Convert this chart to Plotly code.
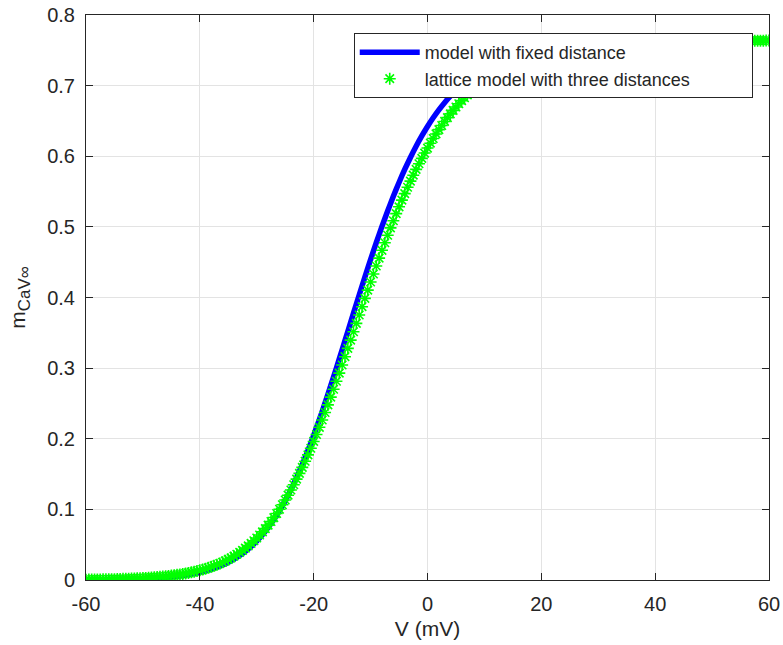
import numpy as np
import plotly.graph_objects as go

# ---- data ----
# membrane potential grids (mV)
V_lattice = np.linspace(-60, 60, 241)   # 0.5 mV sampling of the lattice model
V_fixed = np.linspace(-60, 60, 121)     # 1 mV sampling of the fixed-distance model

m_lattice = [
    0.0005, 0.0006, 0.0006, 0.0007, 0.0007, 0.0008, 0.0009, 0.0010, 0.0010, 0.0011,
    0.0012, 0.0013, 0.0014, 0.0016, 0.0017, 0.0018, 0.0020, 0.0022, 0.0024, 0.0026,
    0.0028, 0.0030, 0.0033, 0.0035, 0.0038, 0.0042, 0.0045, 0.0049, 0.0053, 0.0057,
    0.0062, 0.0067, 0.0073, 0.0079, 0.0085, 0.0092, 0.0100, 0.0108, 0.0117, 0.0127,
    0.0137, 0.0148, 0.0160, 0.0172, 0.0186, 0.0201, 0.0217, 0.0234, 0.0252, 0.0271,
    0.0292, 0.0314, 0.0338, 0.0364, 0.0391, 0.0420, 0.0451, 0.0484, 0.0519, 0.0556,
    0.0595, 0.0637, 0.0681, 0.0728, 0.0777, 0.0829, 0.0884, 0.0942, 0.1002, 0.1065,
    0.1132, 0.1201, 0.1274, 0.1349, 0.1428, 0.1510, 0.1594, 0.1682, 0.1772, 0.1866,
    0.1962, 0.2060, 0.2162, 0.2265, 0.2371, 0.2479, 0.2589, 0.2701, 0.2814, 0.2929,
    0.3045, 0.3162, 0.3279, 0.3397, 0.3515, 0.3634, 0.3752, 0.3870, 0.3987, 0.4104,
    0.4219, 0.4333, 0.4446, 0.4558, 0.4668, 0.4776, 0.4882, 0.4986, 0.5087, 0.5187,
    0.5284, 0.5379, 0.5471, 0.5561, 0.5648, 0.5732, 0.5814, 0.5894, 0.5970, 0.6045,
    0.6116, 0.6185, 0.6251, 0.6316, 0.6377, 0.6436, 0.6493, 0.6547, 0.6600, 0.6650,
    0.6698, 0.6743, 0.6787, 0.6829, 0.6869, 0.6908, 0.6944, 0.6979, 0.7012, 0.7044,
    0.7074, 0.7103, 0.7130, 0.7157, 0.7181, 0.7205, 0.7227, 0.7249, 0.7269, 0.7288,
    0.7307, 0.7324, 0.7341, 0.7356, 0.7371, 0.7385, 0.7399, 0.7411, 0.7423, 0.7435,
    0.7446, 0.7456, 0.7466, 0.7475, 0.7484, 0.7492, 0.7500, 0.7507, 0.7515, 0.7521,
    0.7528, 0.7534, 0.7539, 0.7545, 0.7550, 0.7555, 0.7559, 0.7563, 0.7568, 0.7571,
    0.7575, 0.7578, 0.7582, 0.7585, 0.7588, 0.7591, 0.7593, 0.7596, 0.7598, 0.7600,
    0.7603, 0.7605, 0.7606, 0.7608, 0.7610, 0.7612, 0.7613, 0.7615, 0.7616, 0.7617,
    0.7619, 0.7620, 0.7621, 0.7622, 0.7623, 0.7624, 0.7625, 0.7625, 0.7626, 0.7627,
    0.7628, 0.7628, 0.7629, 0.7630, 0.7630, 0.7631, 0.7631, 0.7632, 0.7632, 0.7633,
    0.7633, 0.7633, 0.7634, 0.7634, 0.7634, 0.7635, 0.7635, 0.7635, 0.7636, 0.7636,
    0.7636, 0.7636, 0.7636, 0.7637, 0.7637, 0.7637, 0.7637, 0.7637, 0.7637, 0.7638,
    0.7638,
]

m_fixed = [
    0.0003, 0.0004, 0.0004, 0.0005, 0.0006, 0.0007, 0.0009, 0.0011, 0.0013, 0.0015,
    0.0018, 0.0022, 0.0026, 0.0032, 0.0038, 0.0045, 0.0054, 0.0064, 0.0076, 0.0091,
    0.0108, 0.0128, 0.0152, 0.0180, 0.0212, 0.0250, 0.0295, 0.0346, 0.0406, 0.0474,
    0.0552, 0.0641, 0.0742, 0.0856, 0.0983, 0.1124, 0.1279, 0.1450, 0.1635, 0.1834,
    0.2046, 0.2271, 0.2506, 0.2751, 0.3002, 0.3259, 0.3518, 0.3778, 0.4035, 0.4289,
    0.4536, 0.4776, 0.5006, 0.5225, 0.5433, 0.5629, 0.5813, 0.5983, 0.6142, 0.6288,
    0.6422, 0.6545, 0.6657, 0.6759, 0.6851, 0.6935, 0.7010, 0.7078, 0.7139, 0.7194,
    0.7243, 0.7286, 0.7326, 0.7361, 0.7392, 0.7420, 0.7444, 0.7466, 0.7486, 0.7503,
    0.7519, 0.7533, 0.7545, 0.7556, 0.7565, 0.7574, 0.7581, 0.7588, 0.7594, 0.7599,
    0.7604, 0.7608, 0.7612, 0.7615, 0.7618, 0.7620, 0.7623, 0.7625, 0.7626, 0.7628,
    0.7629, 0.7631, 0.7632, 0.7633, 0.7633, 0.7634, 0.7635, 0.7635, 0.7636, 0.7636,
    0.7637, 0.7637, 0.7638, 0.7638, 0.7638, 0.7638, 0.7638, 0.7639, 0.7639, 0.7639,
    0.7639,
]

x_tickvals = [-60, -40, -20, 0, 20, 40, 60]
x_ticktext = ["-60", "-40", "-20", "0", "20", "40", "60"]
y_tickvals = [0, 0.1, 0.2, 0.3, 0.4, 0.5, 0.6, 0.7, 0.8]
y_ticktext = ["0", "0.1", "0.2", "0.3", "0.4", "0.5", "0.6", "0.7", "0.8"]

series_names = ["model with fixed distance", "lattice model with three distances"]

# ---- figure ----
FONT = "Liberation Sans, Arial, Helvetica, sans-serif"
DARK = "#262626"
GRID = "#e3e3e3"

fig = go.Figure()
fig.add_trace(go.Scatter(
    x=V_fixed, y=m_fixed, mode="lines", name=series_names[0],
    line=dict(color="#0000ff", width=5.5, shape="spline", smoothing=0.6),
))
fig.add_trace(go.Scatter(
    x=V_lattice, y=m_lattice, mode="markers", name=series_names[1],
    marker=dict(symbol="asterisk-open", size=10, color="#00ff00",
                line=dict(width=1.6, color="#00ff00")),
))

axis_common = dict(
    showline=True, linecolor=DARK, linewidth=1, mirror="ticks",
    ticks="inside", ticklen=7, tickwidth=1, tickcolor=DARK,
    showgrid=True, gridcolor=GRID, gridwidth=1, zeroline=False,
    tickfont=dict(family=FONT, size=20, color=DARK),
)

fig.update_xaxes(
    range=[-60, 60], tickvals=x_tickvals, ticktext=x_ticktext,
    title=dict(text="V (mV)", font=dict(family=FONT, size=21, color=DARK), standoff=7),
    ticklabelstandoff=6,
    **axis_common,
)
fig.update_yaxes(
    range=[0, 0.8], tickvals=y_tickvals, ticktext=y_ticktext,
    title=dict(
        text="m<sub><span style='font-size:17px'>CaV∞</span></sub>",
        font=dict(family=FONT, size=21, color=DARK), standoff=15,
    ),
    ticklabelstandoff=6,
    **axis_common,
)

fig.update_layout(
    width=783, height=645,
    margin=dict(l=86, r=14, t=15, b=65, autoexpand=False),
    paper_bgcolor="white", plot_bgcolor="white",
    font=dict(family=FONT, size=18, color=DARK),
    showlegend=True,
    legend=dict(
        orientation="h",
        x=0.392, y=0.968, xanchor="left", yanchor="top",
        bgcolor="white", bordercolor=DARK, borderwidth=1,
        font=dict(family=FONT, size=18, color=DARK),
        itemwidth=60, tracegroupgap=0,
        entrywidth=322, entrywidthmode="pixels",
    ),
)

fig.write_html("out.html")
